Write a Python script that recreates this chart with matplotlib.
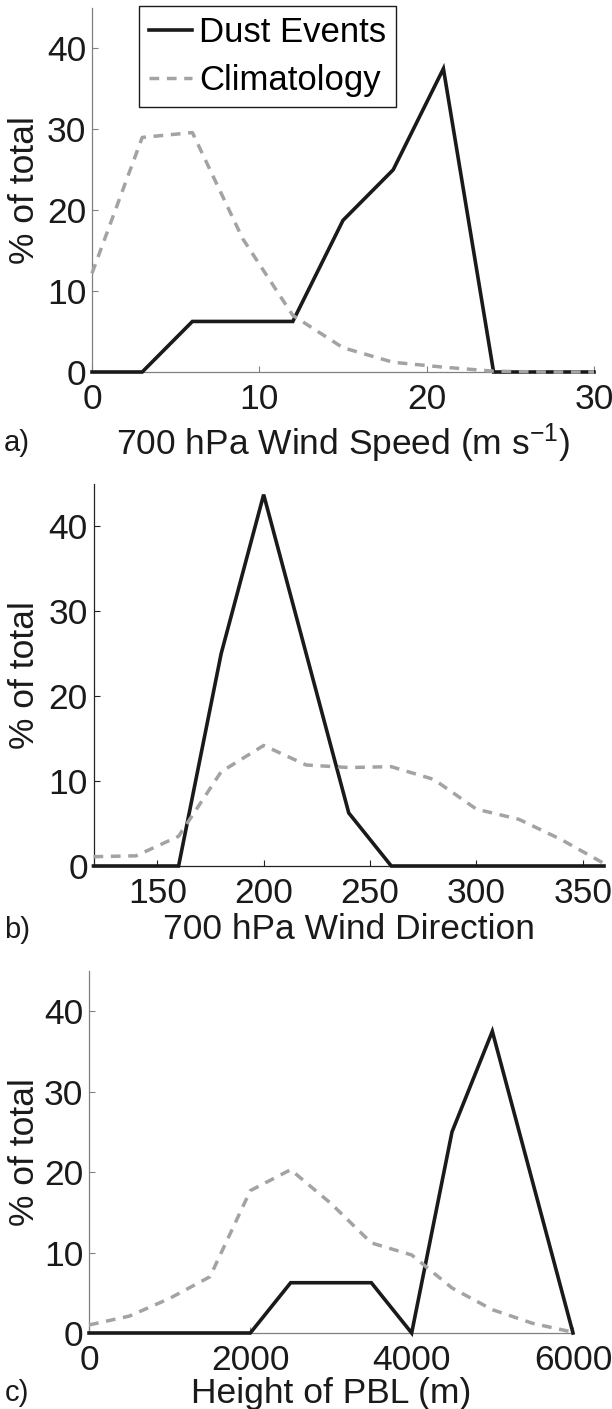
import matplotlib
matplotlib.use('Agg')
import matplotlib.pyplot as plt

plt.rcParams['font.family'] = ['Liberation Sans', 'DejaVu Sans']
plt.rcParams['mathtext.fontset'] = 'custom'
plt.rcParams['mathtext.rm'] = 'Liberation Sans'
plt.rcParams['mathtext.default'] = 'regular'

# a) 700 hPa wind speed
speed = [0, 3, 6, 9, 12, 15, 18, 21, 24, 27, 30]
dust_speed = [0, 0, 6.25, 6.25, 6.25, 18.75, 25, 37.5, 0, 0, 0]
clim_speed = [12.2, 29.0, 29.6, 16.5, 7.0, 3.0, 1.2, 0.6, 0.1, 0.0, 0.0]

# b) 700 hPa wind direction
direction = [120, 140, 160, 180, 200, 220, 240, 260, 280, 300, 320, 340, 360]
dust_dir = [0, 0, 0, 25, 43.75, 25, 6.25, 0, 0, 0, 0, 0, 0]
clim_dir = [1.1, 1.2, 3.5, 11.1, 14.2, 11.9, 11.6, 11.7, 10.2, 6.7, 5.5, 3.1, 0.3]

# c) PBL height
pbl = [0, 500, 1000, 1500, 2000, 2500, 3000, 3500, 4000, 4500, 5000, 5500, 6000]
dust_pbl = [0, 0, 0, 0, 0, 6.25, 6.25, 6.25, 0, 25, 37.5, 18.75, 0]
clim_pbl = [1.0, 2.1, 4.3, 7.0, 17.7, 20.3, 16.1, 11.2, 9.7, 5.6, 2.9, 1.2, 0.1]

W, H = 612, 1409
FS = 25.5
fig = plt.figure(figsize=(W / 100, H / 100), dpi=100)


def make_axes(left, right, top, bottom):
    return fig.add_axes([left / W, 1 - bottom / H, (right - left) / W, (bottom - top) / H])


panels = [
    dict(box=(92, 594, 8, 372), x=speed, dust=dust_speed, clim=clim_speed,
         xlim=(0, 30), xticks=[0, 10, 20, 30],
         xlabel='700 hPa Wind Speed (m s$^{-1}$)', tag='a)', spine='#808080', laby=443),
    dict(box=(93.5, 604, 484, 866), x=direction, dust=dust_dir, clim=clim_dir,
         xlim=(120, 360), xticks=[150, 200, 250, 300, 350],
         xlabel='700 hPa Wind Direction', tag='b)', spine='#222222', laby=930),
    dict(box=(89, 573, 971, 1333), x=pbl, dust=dust_pbl, clim=clim_pbl,
         xlim=(0, 6000), xticks=[0, 2000, 4000, 6000],
         xlabel='Height of PBL (m)', tag='c)', spine='#808080', laby=1393),
]

for i, p in enumerate(panels):
    left, right, top, bottom = p['box']
    ax = make_axes(left, right, top, bottom)
    ax.plot(p['x'], p['dust'], color='#1a1a1a', lw=2.6, label='Dust Events',
            solid_joinstyle='miter', clip_on=False, zorder=3)
    ax.plot(p['x'], p['clim'], color='#a3a3a3', lw=2.5, ls=(0, (2.8, 2.2)),
            label='Climatology', clip_on=False, zorder=4)
    ax.set_xlim(*p['xlim'])
    ax.set_ylim(0, 45)
    ax.set_xticks(p['xticks'])
    ax.set_yticks([0, 10, 20, 30, 40])
    ax.spines['top'].set_visible(False)
    ax.spines['right'].set_visible(False)
    for s in ('left', 'bottom'):
        ax.spines[s].set_color(p['spine'])
        ax.spines[s].set_linewidth(0.9)
    ax.tick_params(direction='in', length=4, width=0.8, color=p['spine'],
                   labelsize=FS, labelcolor='#1a1a1a')
    ax.tick_params(axis='x', pad=8)
    ax.tick_params(axis='y', pad=4)
    ax.set_ylabel('% of total', fontsize=FS, color='#1a1a1a')
    ax.yaxis.set_label_coords((24 - left) / (right - left), 0.5)
    ax.yaxis.label.set_va('center')
    ax.set_xlabel(p['xlabel'], fontsize=FS, color='#1a1a1a')
    ax.xaxis.set_label_coords(0.5, (bottom - p['laby']) / (bottom - top))
    ax.xaxis.label.set_va('center')
    fig.text(17 / W, 1 - p['laby'] / H, p['tag'], fontsize=21, ha='center', va='center',
             color='#1a1a1a')
    if i == 0:
        leg = ax.legend(loc='upper left',
                        bbox_to_anchor=((139 - left) / (right - left), (bottom - 6) / (bottom - top)),
                        borderaxespad=0, fontsize=25, handlelength=1.25, handletextpad=0.2,
                        labelspacing=0.45, borderpad=0.28, fancybox=False, framealpha=1)
        leg.get_frame().set_edgecolor('#1a1a1a')
        leg.get_frame().set_linewidth(1.0)

fig.savefig('out.png', dpi=100)
